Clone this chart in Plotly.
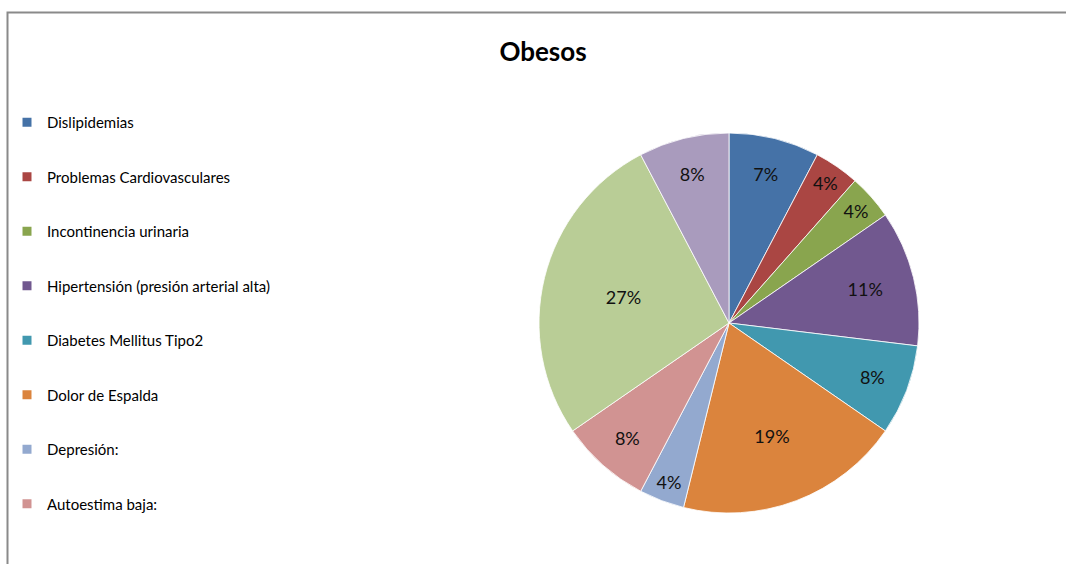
import plotly.graph_objects as go

categories = [
    "Dislipidemias",
    "Problemas Cardiovasculares",
    "Incontinencia urinaria",
    "Hipertensión (presión arterial alta)",
    "Diabetes Mellitus Tipo2",
    "Dolor de Espalda",
    "Depresión:",
    "Autoestima baja:",
    "Otra categoría 1",
    "Otra categoría 2",
]
counts = [2, 1, 1, 3, 2, 5, 1, 2, 7, 2]
pct_labels = ["7%", "4%", "4%", "11%", "8%", "19%", "4%", "8%", "27%", "8%"]
colors = ["#4572A7", "#AA4643", "#89A54E", "#71588F", "#4198AF",
          "#DB843D", "#93A9CF", "#D19392", "#B9CD96", "#A99BBD"]
legend_visible = 8  # the last two entries are cut off in the original

FONT = "Lato"
W, H = 1066, 564

fig = go.Figure()
fig.add_trace(go.Pie(
    labels=categories,
    values=counts,
    text=pct_labels,
    texttemplate="%{text}",
    textposition="inside",
    insidetextorientation="horizontal",
    insidetextfont=dict(family=FONT, size=18, color="#111111"),
    marker=dict(colors=colors, line=dict(color="rgba(255,255,255,0.8)", width=1)),
    sort=False,
    direction="clockwise",
    rotation=0,
    showlegend=False,
    domain=dict(x=[(729 - 190) / W, (729 + 190) / W], y=[1 - 513 / H, 1 - 133 / H]),
    hoverinfo="label+percent",
))

for i in range(legend_visible):
    fig.add_trace(go.Scatter(
        x=[None], y=[None], mode="markers",
        marker=dict(symbol="square", size=9, color=colors[i]),
        name=categories[i], legendgroup=f"g{i}", showlegend=True,
    ))

fig.update_layout(
    width=W, height=H,
    margin=dict(l=0, r=0, t=0, b=0),
    paper_bgcolor="white", plot_bgcolor="white",
    xaxis=dict(visible=False), yaxis=dict(visible=False),
    font=dict(family=FONT, color="#000000"),
    title=dict(text="<b>Obesos</b>", x=543 / W, y=1 - 52 / H, xanchor="center", yanchor="middle",
               font=dict(family=FONT, size=26, color="#000000")),
    legend=dict(x=7 / W, y=1 - 106 / H, xanchor="left", yanchor="top",
                font=dict(family=FONT, size=15, color="#000000"),
                tracegroupgap=32, bgcolor="rgba(0,0,0,0)"),
    shapes=[dict(type="rect", xref="paper", yref="paper",
                 x0=7.5 / W, x1=1.02, y0=-0.02, y1=1 - 12.5 / H,
                 line=dict(color="#8a8a8a", width=2), layer="below")],
)

fig.write_html("out.html")
